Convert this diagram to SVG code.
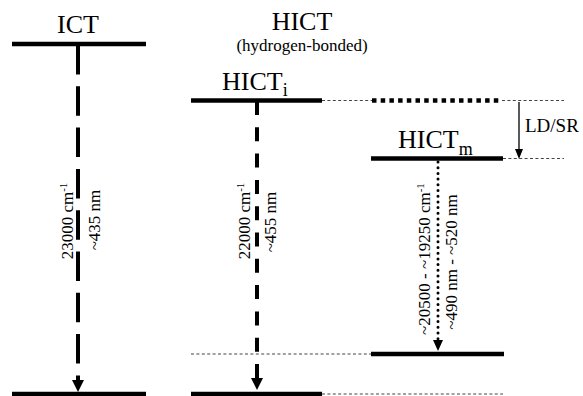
<svg xmlns="http://www.w3.org/2000/svg" width="583" height="396" viewBox="0 0 583 396">
<style>
text{font-family:"Liberation Serif","Times New Roman",serif;fill:#000}
.lvl{stroke:#000;stroke-width:4.5;fill:none}
.thin{stroke:#444;stroke-width:1;stroke-dasharray:3 2.4;fill:none}
.big{font-size:26px}
.sub{font-size:18px}
.lab{font-size:17px}
.sup{font-size:11px}
</style>
<defs>
<marker id="ah" markerUnits="userSpaceOnUse" markerWidth="12" markerHeight="12" viewBox="0 0 12 12" refX="0" refY="6" orient="auto"><path d="M0,0 L12,6 L0,12 z" fill="#000"/></marker>
<marker id="ahs" markerUnits="userSpaceOnUse" markerWidth="11" markerHeight="10" viewBox="0 0 11 10" refX="0" refY="5" orient="auto"><path d="M0,0 L11,5 L0,10 z" fill="#000"/></marker>
<marker id="ahl" markerUnits="userSpaceOnUse" markerWidth="10" markerHeight="8" viewBox="0 0 10 8" refX="0" refY="4" orient="auto"><path d="M0,0 L10,4 L0,8 z" fill="#000"/></marker>
</defs>
<rect width="583" height="396" fill="#fff"/>
<g id="titles">
<text class="big" x="78" y="33" text-anchor="middle">ICT</text>
<text class="big" x="302" y="30" text-anchor="middle">HICT</text>
<text x="302" y="51" font-size="17" text-anchor="middle">(hydrogen-bonded)</text>
</g>
<g id="ICT">
<line class="lvl" x1="12" y1="44" x2="146" y2="44"/>
</g>
<g id="HICTi">
<line class="lvl" x1="191" y1="100.5" x2="322" y2="100.5"/>
<text class="big" x="222" y="90">HICT<tspan class="sub" dy="6">i</tspan></text>
</g>
<g id="HICTi-level-extension">
<line x1="372" y1="100.5" x2="502" y2="100.5" stroke="#000" stroke-width="4.5" stroke-dasharray="4.5 4.2"/>
</g>
<g id="HICTm">
<line class="lvl" x1="371" y1="158.5" x2="503" y2="158.5"/>
<text class="big" x="398" y="148">HICT<tspan class="sub" dy="7">m</tspan></text>
</g>
<g id="HICTm-ground">
<line class="lvl" x1="371" y1="354" x2="504" y2="354"/>
</g>
<g id="ICT-ground">
<line class="lvl" x1="12" y1="394" x2="146" y2="394"/>
</g>
<g id="HICTi-ground">
<line class="lvl" x1="191" y1="394" x2="322" y2="394"/>
</g>
<g id="LDSR">
<text x="525" y="132" font-size="19">LD/SR</text>
</g>
<g id="connectors">
<line class="thin" x1="322" y1="100.5" x2="372" y2="100.5"/>
<line class="thin" x1="502" y1="100.5" x2="564" y2="100.5"/>
<line class="thin" x1="503" y1="158.5" x2="564" y2="158.5"/>
<line class="thin" x1="191" y1="354" x2="371" y2="354"/>
<line class="thin" x1="322" y1="394" x2="503" y2="394"/>
<line x1="78" y1="45" x2="78" y2="380" stroke="#000" stroke-width="4" stroke-dasharray="29.5 11.8" marker-end="url(#ah)"/>
<line x1="257" y1="101" x2="257" y2="378" stroke="#000" stroke-width="4" stroke-dasharray="14 12.3" marker-end="url(#ah)"/>
<line x1="438" y1="162" x2="438" y2="340" stroke="#000" stroke-width="3" stroke-linecap="round" stroke-dasharray="0 5.7" marker-end="url(#ahs)"/>
<line x1="519" y1="102" x2="519" y2="149" stroke="#000" stroke-width="1.3" marker-end="url(#ahl)"/>
</g>
<g id="labels">
<text class="lab" transform="translate(73,221) rotate(-90)" text-anchor="middle">23000 cm<tspan class="sup" dy="-6">-1</tspan></text>
<text class="lab" transform="translate(99.5,220) rotate(-90)" text-anchor="middle">~435 nm</text>
<text class="lab" transform="translate(250,221) rotate(-90)" text-anchor="middle">22000 cm<tspan class="sup" dy="-6">-1</tspan></text>
<text class="lab" transform="translate(275.5,222) rotate(-90)" text-anchor="middle">~455 nm</text>
<text class="lab" transform="translate(430,259) rotate(-90)" text-anchor="middle">~20500 - ~19250 cm<tspan class="sup" dy="-6">-1</tspan></text>
<text class="lab" transform="translate(457,262) rotate(-90)" text-anchor="middle">~490 nm - ~520 nm</text>
</g>
</svg>
